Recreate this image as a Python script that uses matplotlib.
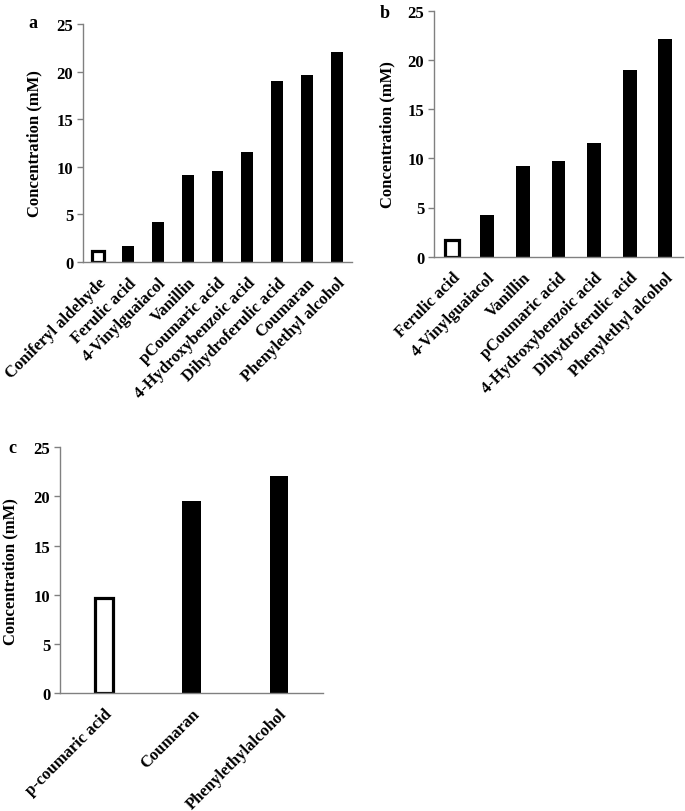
import matplotlib
matplotlib.use("Agg")
import matplotlib.pyplot as plt

plt.rcParams['font.family'] = ['Liberation Serif', 'DejaVu Serif']
plt.rcParams['font.weight'] = 'bold'

cats_a = ["Coniferyl aldehyde", "Ferulic acid", "4-Vinylguaiacol", "Vanillin",
          "pCoumaric acid", "4-Hydroxybenzoic acid", "Dihydroferulic acid",
          "Coumaran", "Phenylethyl alcohol"]
vals_a = [1.2, 1.7, 4.2, 9.1, 9.6, 11.6, 19.0, 19.6, 22.1]

cats_b = ["Ferulic acid", "4-Vinylguaiacol", "Vanillin", "pCoumaric acid",
          "4-Hydroxybenzoic acid", "Dihydroferulic acid", "Phenylethyl alcohol"]
vals_b = [1.7, 4.2, 9.2, 9.7, 11.6, 19.0, 22.1]

cats_c = ["p-coumaric acid", "Coumaran", "Phenylethylalcohol"]
vals_c = [9.7, 19.5, 22.1]

yticks = [0, 5, 10, 15, 20, 25]

fig = plt.figure(figsize=(6.85, 8.12), dpi=100)

FS = 12

def panel(rect, cats, vals, width, letter, letter_xy, ylab_x):
    ax = fig.add_axes(rect)
    x = list(range(len(cats)))
    bars = ax.bar(x, vals, width=width, color='black', edgecolor='black', linewidth=0)
    b0 = bars[0]
    b0.set_facecolor('white')
    b0.set_edgecolor('black')
    b0.set_linewidth(2.3)
    ax.set_xlim(-0.5, len(cats) - 0.5)
    ax.set_ylim(0, 25)
    ax.set_yticks(yticks)
    ax.set_yticklabels([str(t) for t in yticks], fontsize=FS, fontweight='bold')
    ax.set_xticks(x)
    ax.set_xticklabels(cats, rotation=45, ha='right', rotation_mode='anchor',
                       fontsize=FS, fontweight='bold')
    ax.tick_params(axis='x', length=0, pad=9)
    ax.tick_params(axis='y', length=4, width=1, color='#808080', pad=3)
    for s in ['top', 'right']:
        ax.spines[s].set_visible(False)
    for s in ['left', 'bottom']:
        ax.spines[s].set_color('#808080')
        ax.spines[s].set_linewidth(1)
    ax.set_ylabel("Concentration (mM)", fontsize=FS, fontweight='bold')
    ax.yaxis.set_label_coords(ylab_x, 0.5)
    fig.text(letter_xy[0], letter_xy[1], letter, fontsize=13, fontweight='bold',
             ha='center', va='center')
    return ax

panel([83/685, 1 - 263/812, 269/685, 238/812], cats_a, vals_a, 0.4, 'a',
      (33/685, 1 - 24/812), (42 - 83) / 269)
panel([434/685, 1 - 257.7/812, 249/685, 246/812], cats_b, vals_b, 0.39, 'b',
      (385/685, 1 - 13/812), (395 - 434) / 249)
panel([60/685, 1 - 694.3/812, 263/685, 246/812], cats_c, vals_c, 0.21, 'c',
      (12/685, 1 - 449/812), (18 - 60) / 263)

fig.savefig("out.png", dpi=100)
